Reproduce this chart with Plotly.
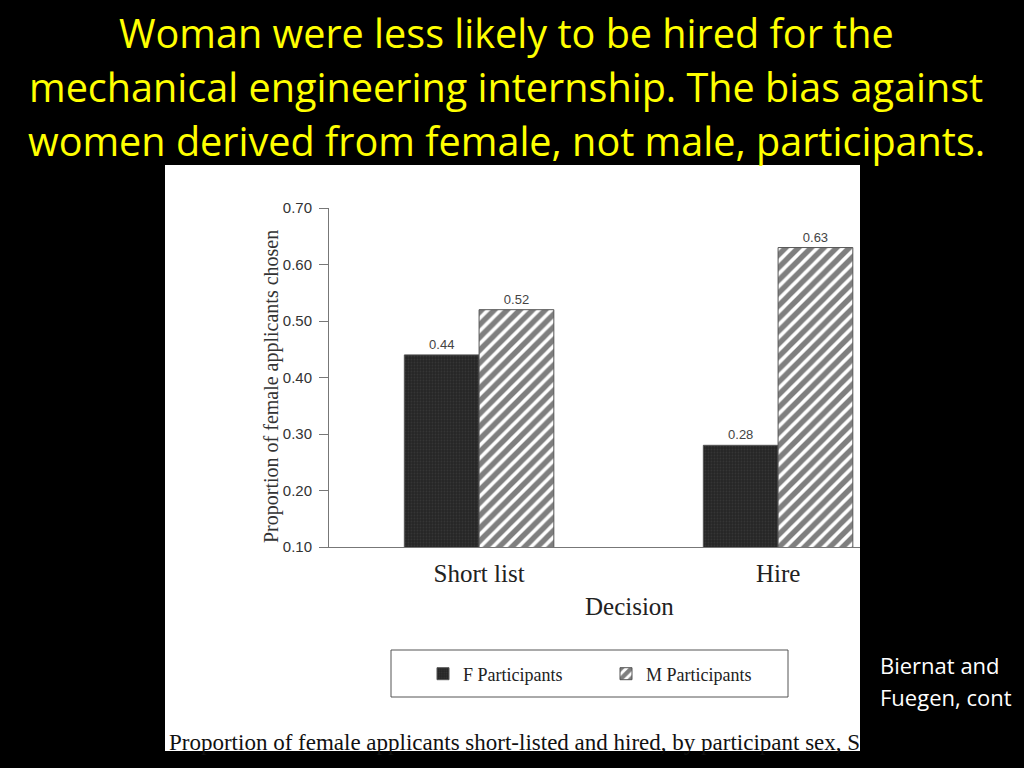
import plotly.graph_objects as go

categories = ["Short list", "Hire"]
f_participants = [0.44, 0.28]
m_participants = [0.52, 0.63]
y_ticks = [0.10, 0.20, 0.30, 0.40, 0.50, 0.60, 0.70]

title_lines = [
    "Woman were less likely to be hired for the",
    "mechanical engineering internship. The bias against",
    "women derived from female, not male, participants.",
]
source_lines = ["Biernat and", "Fuegen, cont"]
caption = "Proportion of female applicants short-listed and hired, by participant sex, S"

W, H = 1024, 768
L, R, T, B = 329, 860, 208, 547  # plot area in px


def px_x(px):
    return (px - L) / (R - L)


def px_y(py):
    return 1 - (py - T) / (B - T)


label_font = dict(family="Liberation Sans", size=13, color="#444")

fig = go.Figure()
fig.add_trace(go.Bar(
    name="F Participants", x=categories, y=f_participants,
    text=[f"{v:.2f}" for v in f_participants], textposition="outside",
    textfont=label_font,
    marker=dict(color="#2c2c2c", line=dict(color="#555", width=1),
                pattern=dict(shape=".", fgcolor="#444", bgcolor="#262626", size=3, solidity=0.3)),
    cliponaxis=False,
))
fig.add_trace(go.Bar(
    name="M Participants", x=categories, y=m_participants,
    text=[f"{v:.2f}" for v in m_participants], textposition="outside",
    textfont=label_font,
    marker=dict(color="white", line=dict(color="#555", width=1),
                pattern=dict(shape="/", fgcolor="black", bgcolor="white", size=9, solidity=0.6)),
    cliponaxis=False,
))

annotations = []
for line, yy in zip(title_lines, [33, 87, 141]):
    annotations.append(dict(
        text=line, xref="paper", yref="paper", x=px_x(506), y=px_y(yy),
        xanchor="center", yanchor="middle", showarrow=False,
        font=dict(family="Open Sans", size=39.6, color="#FFFF00"),
    ))
for line, yy in zip(source_lines, [665, 697]):
    annotations.append(dict(
        text=line, xref="paper", yref="paper", x=px_x(878), y=px_y(yy),
        xanchor="left", yanchor="middle", showarrow=False,
        font=dict(family="Open Sans", size=22, color="white"),
    ))
annotations += [
    dict(text="Proportion of female applicants chosen", xref="paper", yref="paper",
         x=px_x(271), y=px_y(387), textangle=-90, showarrow=False,
         xanchor="center", yanchor="middle",
         font=dict(family="Liberation Serif", size=20, color="#333")),
    dict(text="Decision", xref="paper", yref="paper", x=px_x(629), y=px_y(606),
         showarrow=False, xanchor="center", yanchor="middle",
         font=dict(family="Liberation Serif", size=25, color="#222")),
    dict(text=caption,
         xref="paper", yref="paper", x=px_x(167), y=px_y(742), showarrow=False,
         xanchor="left", yanchor="middle",
         font=dict(family="Liberation Serif", size=23, color="#111")),
]

shapes = [
    dict(type="rect", xref="paper", yref="paper", x0=px_x(165), x1=px_x(860),
         y0=px_y(751), y1=px_y(165), fillcolor="white", line=dict(width=0), layer="below"),
    dict(type="rect", xref="paper", yref="paper", x0=px_x(391), x1=px_x(788),
         y0=px_y(697), y1=px_y(650), fillcolor="rgba(0,0,0,0)",
         line=dict(color="#555", width=1)),
]

fig.update_layout(
    width=W, height=H, autosize=False,
    margin=dict(l=L, r=W - R, t=T, b=H - B, pad=0),
    paper_bgcolor="black", plot_bgcolor="white",
    barmode="group", bargap=0.5, bargroupgap=0,
    showlegend=True,
    legend=dict(orientation="h", x=px_x(423), y=px_y(674), xanchor="left", yanchor="middle",
                bgcolor="rgba(0,0,0,0)", borderwidth=0,
                font=dict(family="Liberation Serif", size=18, color="#222"),
                entrywidth=138, entrywidthmode="pixels"),
    annotations=annotations, shapes=shapes,
    xaxis=dict(range=[-0.502, 1.274], showgrid=False, zeroline=False,
               showline=True, linecolor="#777", linewidth=1, ticks="",
               tickfont=dict(family="Liberation Serif", size=25, color="#222"),
               ticklabelstandoff=4),
    yaxis=dict(range=[0.10, 0.70], tickvals=y_ticks, tickformat=".2f",
               showgrid=False, zeroline=False, showline=True, linecolor="#777", linewidth=1,
               ticks="outside", ticklen=9, tickcolor="#777", ticklabelstandoff=4,
               tickfont=dict(family="Liberation Sans", size=15, color="#333")),
)

fig.write_html("out.html", config={"displayModeBar": False},
               post_script="document.body.style.margin='0px';document.body.style.background='black';")
